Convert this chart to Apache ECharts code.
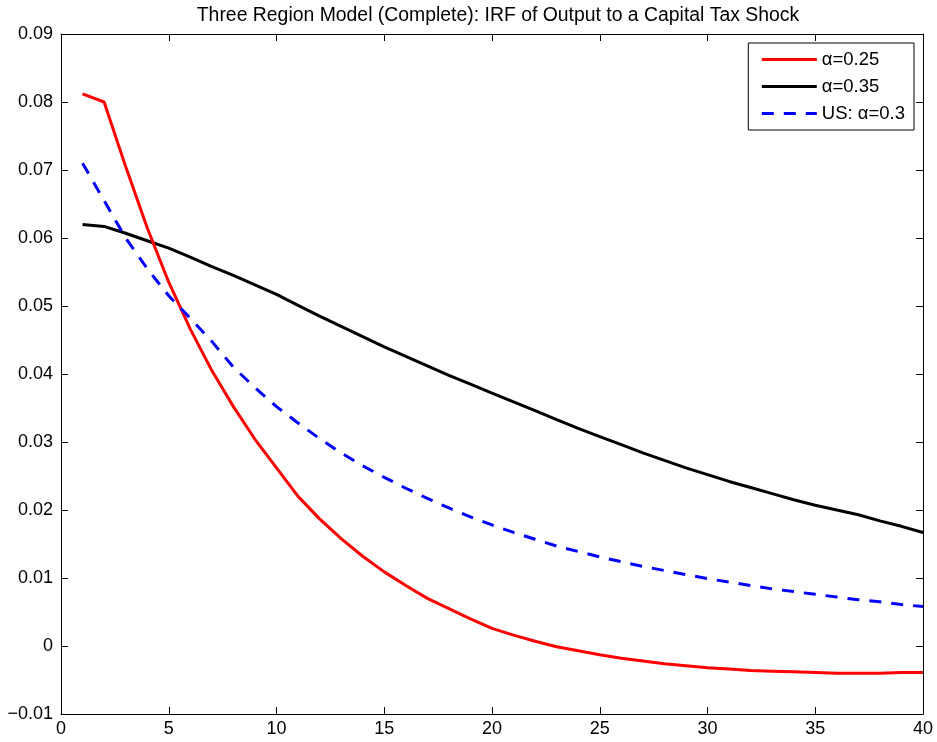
<!DOCTYPE html>
<html><head><meta charset="utf-8">
<script src="https://cdn.jsdelivr.net/npm/echarts@6/dist/echarts.min.js"></script>
<style>html,body{margin:0;padding:0;background:#fff}#c{width:937px;height:742px}</style>
</head><body><div id="c"></div>
<script>
const periods = [1,2,3,4,5,6,7,8,9,10,11,12,13,14,15,16,17,18,19,20,21,22,23,24,25,26,27,28,29,30,31,32,33,34,35,36,37,38,39,40];
const alpha025 = [0.0812,0.0800,0.0705,0.0615,0.0535,0.0466,0.0405,0.0352,0.0304,0.0262,0.0220,0.0187,0.0158,0.0132,0.0109,0.0089,0.0070,0.0055,0.0040,0.0026,0.0016,0.0007,-0.0001,-0.0007,-0.0013,-0.0018,-0.0022,-0.0026,-0.0029,-0.0032,-0.0034,-0.0036,-0.0037,-0.0038,-0.0039,-0.0040,-0.0040,-0.0040,-0.0039,-0.0039];
const alpha035 = [0.0620,0.0617,0.0607,0.0596,0.0585,0.0572,0.0558,0.0545,0.0531,0.0517,0.0501,0.0485,0.0470,0.0455,0.0440,0.0426,0.0412,0.0398,0.0385,0.0372,0.0359,0.0346,0.0333,0.0320,0.0308,0.0296,0.0284,0.0273,0.0262,0.0252,0.0242,0.0233,0.0224,0.0215,0.0207,0.0200,0.0193,0.0184,0.0176,0.0167];
const usAlpha03 = [0.0710,0.0655,0.0600,0.0555,0.0515,0.0482,0.0448,0.0410,0.0380,0.0352,0.0328,0.0305,0.0284,0.0265,0.0248,0.0232,0.0217,0.0203,0.0190,0.0178,0.0167,0.0157,0.0147,0.0139,0.0131,0.0124,0.0117,0.0111,0.0105,0.0099,0.0094,0.0089,0.0084,0.0080,0.0076,0.0072,0.0068,0.0065,0.0061,0.0058];
const seriesNames = ['\u03b1=0.25','\u03b1=0.35','US: \u03b1=0.3'];
const titleText = 'Three Region Model (Complete): IRF of Output to a Capital Tax Shock';

const FONT = 'Liberation Sans, Arial, Helvetica, sans-serif';
const pair = (ys) => periods.map((x,i)=>[x, ys[i]]);
const chart = echarts.init(document.getElementById('c'), null, {renderer:'canvas'});
const axisCommon = {
  axisLine:{show:true, onZero:false, lineStyle:{color:'#000', width:1}},
  axisTick:{show:true, inside:true, length:7, lineStyle:{color:'#000', width:1}},
  splitLine:{show:false}
};
chart.setOption({
  animation:false,
  backgroundColor:'#fff',
  title:{text:titleText, left:493, textAlign:'center', top:1,
    textStyle:{fontFamily:FONT, fontSize:19.4, fontWeight:'normal', color:'#000'}},
  grid:{left:61, right:14, top:34, bottom:28, containLabel:false},
  legend:{
    orient:'vertical', right:23, top:43, data:seriesNames,
    backgroundColor:'#fff', borderColor:'#000', borderWidth:1,
    padding:[7,9,7,12], itemWidth:55, itemHeight:14, itemGap:8,
    itemStyle:{color:'rgba(0,0,0,0)', borderWidth:0, opacity:0},
    lineStyle:{width:3},
    textStyle:{fontFamily:FONT, fontSize:18.5, color:'#000'}
  },
  xAxis:[
    Object.assign({type:'value', min:0, max:40, interval:5, position:'bottom',
      axisLabel:{fontFamily:FONT, fontSize:18, color:'#000', margin:6}}, axisCommon),
    Object.assign({type:'value', min:0, max:40, interval:5, position:'top',
      axisLabel:{show:false}}, axisCommon)
  ],
  yAxis:[
    Object.assign({type:'value', min:-0.01, max:0.09, interval:0.01, position:'left',
      axisLabel:{fontFamily:FONT, fontSize:18, color:'#000', margin:8,
        formatter:(v)=>{const r=Math.round(v*100)/100; if(r===0) return '0'; return (r<0?'\u2212':'')+Math.abs(r).toFixed(2);}}}, axisCommon),
    Object.assign({type:'value', min:-0.01, max:0.09, interval:0.01, position:'right',
      axisLabel:{show:false}}, axisCommon)
  ],
  series:[
    {name:seriesNames[0], type:'line', data:pair(alpha025), symbol:'none', showSymbol:false,
      lineStyle:{color:'#ff0000', width:3}, itemStyle:{color:'#ff0000'}, z:3},
    {name:seriesNames[1], type:'line', data:pair(alpha035), symbol:'none', showSymbol:false,
      lineStyle:{color:'#000000', width:3}, itemStyle:{color:'#000000'}, z:2},
    {name:seriesNames[2], type:'line', data:pair(usAlpha03), symbol:'none', showSymbol:false,
      lineStyle:{color:'#0000ff', width:3, type:[12,10]}, itemStyle:{color:'#0000ff'}, z:4}
  ]
});
</script></body></html>
